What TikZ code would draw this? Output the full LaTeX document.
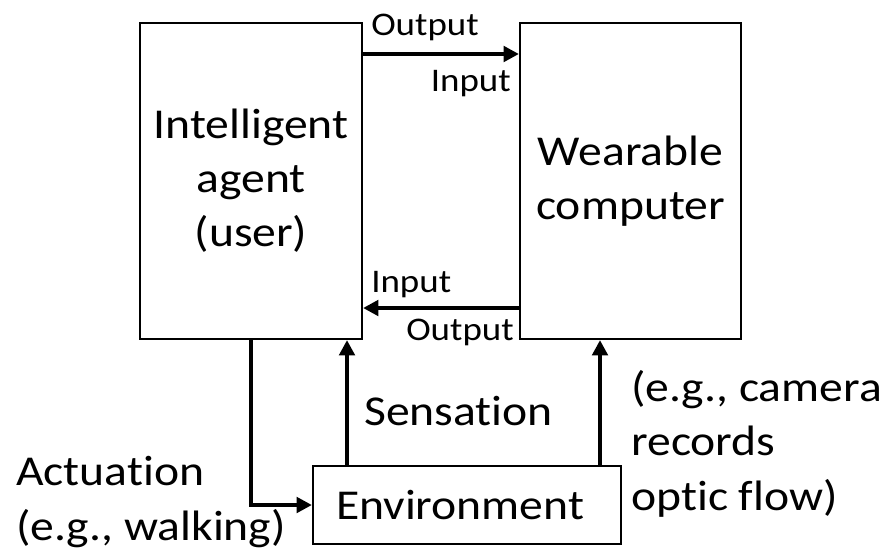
\documentclass[tikz,border=0pt]{standalone}
\usepackage{fontspec}
\setmainfont{Carlito}[FakeStretch=1.12, Ligatures=NoCommon]
\usetikzlibrary{arrows.meta}
\newcommand\bigfont{\fontsize{31.9pt}{40.6pt}\selectfont}
\newcommand\smallfont{\fontsize{24.75pt}{30pt}\selectfont}
\begin{document}
\begin{tikzpicture}[x=0.75pt,y=-0.75pt,
  box/.style={draw, line width=1.6pt, inner sep=0pt, align=center, font=\bigfont},
  arr/.style={line width=3.5pt, -{Triangle[length=11.5pt,width=11.5pt]}},
  small/.style={font=\smallfont, inner sep=0pt},
  big/.style={font=\bigfont, inner sep=0pt, align=left},
]
\useasboundingbox (0,0) rectangle (896,554);

% main blocks
\node[box, minimum width=166.5pt, minimum height=237pt] (agent) at (251,181) {Intelligent\\agent\\(user)};
\node[box, minimum width=165.75pt, minimum height=237pt] (wear) at (630.5,181) {Wearable\\computer};
\node[box, minimum width=231pt, minimum height=58.5pt, text width=196.5pt,
      inner xsep=17.25pt, align=left] (env) at (467,505) {Environment};

% helper coordinates for the connector rows and columns
\coordinate (ytop) at (0,54);
\coordinate (ybot) at (0,308);
\coordinate (xsens) at (347,0);
\coordinate (xcam) at (600,0);

% connectors
\draw[arr] (agent.east |- ytop) -- (wear.west |- ytop);
\draw[arr] (wear.west |- ybot) -- (agent.east |- ybot);
\draw[arr] (agent.south) |- (env.west);
\draw[arr] (env.north -| xsens) -- (agent.south -| xsens);
\draw[arr] (env.north -| xcam) -- (wear.south -| xcam);

% port labels
\node[small, anchor=base west] (outA) at (371,35) {Output};
\node[small, anchor=base east] (inB) at (511,91) {Input};
\node[small, anchor=base west] (inA) at (371,292) {Input};
\node[small, anchor=base east] (outB) at (514,340) {Output};

% descriptive labels (base anchor sits on the last line)
\node[big, anchor=base west] (sens) at (364,425) {Sensation};
\node[big, anchor=base west] (cam) at (631,510) {(e.g., camera\\records\\optic flow)};
\node[big, anchor=base west] (act) at (16,540) {Actuation\\(e.g., walking)};
\end{tikzpicture}
\end{document}
